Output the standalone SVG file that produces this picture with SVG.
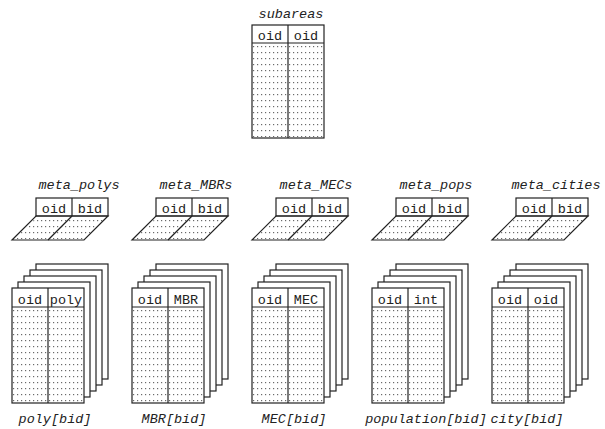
<svg xmlns="http://www.w3.org/2000/svg" width="605" height="429" viewBox="0 0 605 429">
<style>
  .ln{fill:none;stroke:#222;stroke-width:1.2}
  .sheet{fill:#fff;stroke:#222;stroke-width:1.2}
  .dot{fill:url(#dots);stroke:none}
  .hd{font-family:"Liberation Mono","DejaVu Sans Mono",monospace;font-size:13.5px;fill:#222;text-anchor:middle}
  .lb{font-family:"Liberation Mono","DejaVu Sans Mono",monospace;font-size:13.5px;font-style:italic;fill:#222;text-anchor:middle}
</style>
<defs>
  <pattern id="dots" patternUnits="userSpaceOnUse" x="0" y="1" width="4" height="6">
    <rect x="1" y="3" width="1.2" height="1.2" fill="#6a6a6a"/>
  </pattern>
  <g id="stack">
    <rect class="sheet" x="24" y="-24" width="72" height="115"/>
    <rect class="sheet" x="18" y="-18" width="72" height="115"/>
    <rect class="sheet" x="12" y="-12" width="72" height="115"/>
    <rect class="sheet" x="6" y="-6" width="72" height="115"/>
    <rect class="sheet" x="0" y="0" width="72" height="115"/>
    <rect class="dot" x="1" y="20" width="70" height="94"/>
    <line class="ln" x1="0" y1="19" x2="72" y2="19"/>
    <line class="ln" x1="36" y1="0" x2="36" y2="115"/>
  </g>
  <g id="meta">
    <rect class="sheet" x="24" y="0" width="72" height="18"/>
    <line class="ln" x1="60" y1="0" x2="60" y2="18"/>
    <polygon class="dot" points="25,19 95,19 72,41 2,41"/>
    <polygon class="ln" points="24,18 96,18 72,42 0,42"/>
    <line class="ln" x1="60" y1="18" x2="36" y2="42"/>
  </g>
</defs>

<g id="subareas">
  <text class="lb" x="291" y="18">subareas</text>
  <rect class="sheet" x="252" y="25" width="72" height="113"/>
  <rect class="dot" x="253" y="44" width="70" height="93"/>
  <line class="ln" x1="252" y1="43" x2="324" y2="43"/>
  <line class="ln" x1="288" y1="25" x2="288" y2="138"/>
  <text class="hd" x="270" y="40">oid</text>
  <text class="hd" x="306" y="40">oid</text>
</g>

<g id="meta_polys">
  <text class="lb" x="79" y="189">meta_polys</text>
  <use href="#meta" x="12" y="198"/>
  <text class="hd" x="54" y="213">oid</text>
  <text class="hd" x="90" y="213">bid</text>
</g>
<g id="meta_MBRs">
  <text class="lb" x="196" y="189">meta_MBRs</text>
  <use href="#meta" x="132" y="198"/>
  <text class="hd" x="174" y="213">oid</text>
  <text class="hd" x="210" y="213">bid</text>
</g>
<g id="meta_MECs">
  <text class="lb" x="316" y="189">meta_MECs</text>
  <use href="#meta" x="252" y="198"/>
  <text class="hd" x="294" y="213">oid</text>
  <text class="hd" x="330" y="213">bid</text>
</g>
<g id="meta_pops">
  <text class="lb" x="436" y="189">meta_pops</text>
  <use href="#meta" x="372" y="198"/>
  <text class="hd" x="414" y="213">oid</text>
  <text class="hd" x="450" y="213">bid</text>
</g>
<g id="meta_cities">
  <text class="lb" x="556" y="189">meta_cities</text>
  <use href="#meta" x="492" y="198"/>
  <text class="hd" x="534" y="213">oid</text>
  <text class="hd" x="570" y="213">bid</text>
</g>

<g id="poly">
  <use href="#stack" x="12" y="288"/>
  <text class="hd" x="30" y="304">oid</text>
  <text class="hd" x="66" y="304">poly</text>
  <text class="lb" x="55" y="423">poly[bid]</text>
</g>
<g id="MBR">
  <use href="#stack" x="132" y="288"/>
  <text class="hd" x="150" y="304">oid</text>
  <text class="hd" x="186" y="304">MBR</text>
  <text class="lb" x="174" y="423">MBR[bid]</text>
</g>
<g id="MEC">
  <use href="#stack" x="252" y="288"/>
  <text class="hd" x="270" y="304">oid</text>
  <text class="hd" x="306" y="304">MEC</text>
  <text class="lb" x="294" y="423">MEC[bid]</text>
</g>
<g id="population">
  <use href="#stack" x="372" y="288"/>
  <text class="hd" x="390" y="304">oid</text>
  <text class="hd" x="426" y="304">int</text>
  <text class="lb" x="426" y="423">population[bid]</text>
</g>
<g id="city">
  <use href="#stack" x="492" y="288"/>
  <text class="hd" x="510" y="304">oid</text>
  <text class="hd" x="546" y="304">oid</text>
  <text class="lb" x="527" y="423">city[bid]</text>
</g>

<g id="connectors"></g>
</svg>
